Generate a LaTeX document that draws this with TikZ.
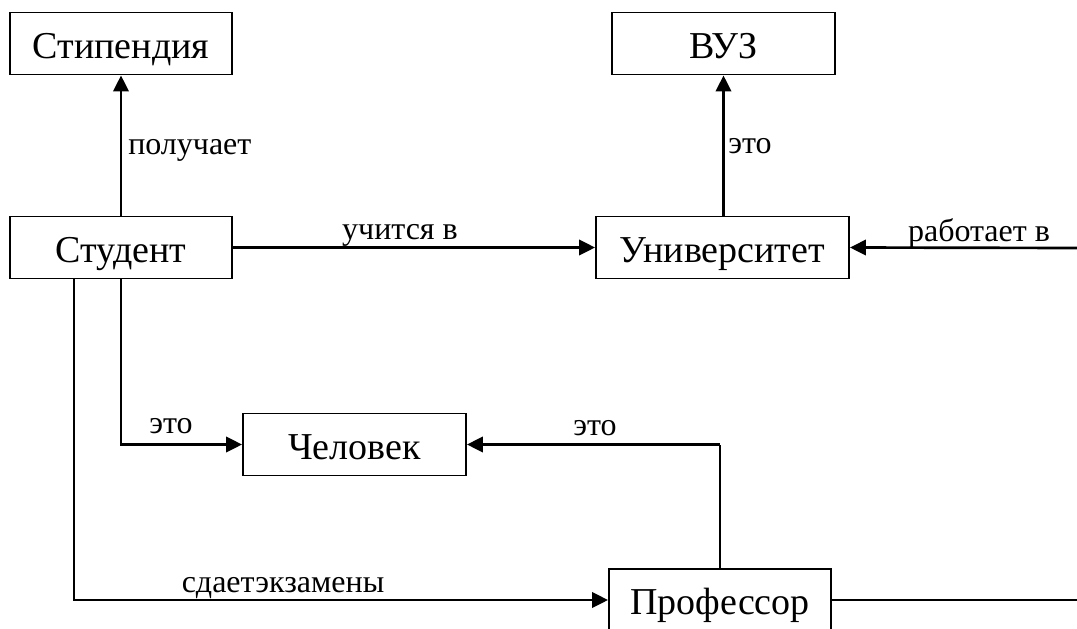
\documentclass[tikz,border=0pt]{standalone}
\usepackage{fontspec}
\setmainfont{Liberation Serif}
\usetikzlibrary{arrows.meta}
\tikzset{
  entity/.style={draw, line width=1.4pt, inner sep=0pt, minimum height=46.5pt,
    text height=21.75pt, text depth=0pt,
    font=\fontsize{28.5}{31}\selectfont},
  rel/.style={line width=2pt, -{Triangle[length=12pt,width=11.5pt]}},
  plain/.style={line width=1.3pt},
  lbl/.style={inner sep=0pt, font=\fontsize{24}{27}\selectfont},
}
\begin{document}
\begin{tikzpicture}[x=0.75pt, y=-0.75pt]
\useasboundingbox (0,0) rectangle (1077,628);
\clip (0,0) rectangle (1077,628);

% concepts
\node[entity, minimum width=166.5pt]  (stip) at (121,43.5)   {Стипендия};
\node[entity, minimum width=167.25pt] (vuz)  at (723.5,43.5) {ВУЗ};
\node[entity, minimum width=166.5pt]  (stud) at (121,247.5)  {Студент};
\node[entity, minimum width=189.75pt] (univ) at (722.5,247.5) {Университет};
\node[entity, minimum width=167.25pt] (chel) at (354.5,444.5) {Человек};
\node[entity, minimum width=166.5pt]  (prof) at (720,600)    {Профессор};

% free ends at the right border
\coordinate (rUniv) at (1077,248);
\coordinate (rProf) at (1077,600);

% relations
\draw[rel] (stud.north) -- (stip.south);
\draw[rel] (univ.north -| vuz.south) -- (vuz.south);
\draw[rel] (stud.east) -- (univ.west);
\draw[rel] (rUniv) -- (univ.east);
\draw[rel] (stud.south) |- (chel.west);
\draw[plain] (prof.north) -- (prof.north |- chel.east);
\draw[rel] (prof.north |- chel.east) -- (chel.east);
\draw[rel] ([xshift=-35.25pt]stud.south) |- (prof.west);
\draw[plain] (prof.east) -- (rProf);

% relation names
\node[lbl, anchor=base west] (lPol) at (128,154) {получает};
\node[lbl, anchor=base west] (lEto1) at (728,153) {это};
\node[lbl, anchor=base] (lUch) at (400,239) {учится в};
\node[lbl, anchor=base] (lRab) at (979,241) {работает в};
\node[lbl, anchor=base] (lEto2) at (171,433) {это};
\node[lbl, anchor=base] (lEto3) at (595,435) {это};
\node[lbl, anchor=base] (lSda) at (283,592) {сдаетэкзамены};
\end{tikzpicture}
\end{document}
